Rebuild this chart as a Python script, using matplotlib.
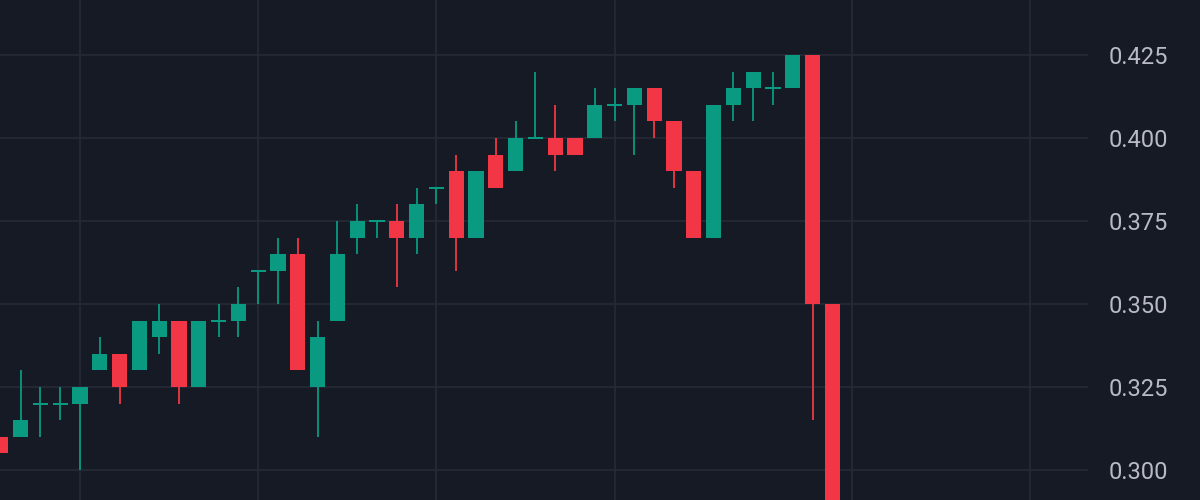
import matplotlib
matplotlib.use("Agg")
import matplotlib.pyplot as plt
import numpy as np

# OHLC data (one candle per session)
opens  = [0.310, 0.310, 0.320, 0.320, 0.320, 0.330, 0.335, 0.330, 0.340, 0.345,
          0.325, 0.345, 0.345, 0.360, 0.360, 0.365, 0.325, 0.345, 0.370, 0.375,
          0.375, 0.370, 0.385, 0.390, 0.370, 0.395, 0.390, 0.400, 0.400, 0.400,
          0.400, 0.410, 0.410, 0.415, 0.405, 0.390, 0.370, 0.410, 0.415, 0.415,
          0.415, 0.425, 0.350]
highs  = [0.310, 0.330, 0.325, 0.325, 0.325, 0.340, 0.335, 0.345, 0.350, 0.345,
          0.345, 0.350, 0.355, 0.360, 0.370, 0.370, 0.345, 0.375, 0.380, 0.375,
          0.380, 0.385, 0.385, 0.395, 0.390, 0.400, 0.405, 0.420, 0.410, 0.400,
          0.415, 0.415, 0.415, 0.415, 0.405, 0.390, 0.410, 0.420, 0.420, 0.420,
          0.425, 0.425, 0.350]
lows   = [0.305, 0.310, 0.310, 0.315, 0.300, 0.330, 0.320, 0.330, 0.335, 0.320,
          0.325, 0.340, 0.340, 0.350, 0.350, 0.330, 0.310, 0.345, 0.365, 0.370,
          0.355, 0.365, 0.380, 0.360, 0.370, 0.385, 0.390, 0.400, 0.390, 0.395,
          0.400, 0.405, 0.395, 0.400, 0.385, 0.370, 0.370, 0.405, 0.405, 0.410,
          0.415, 0.315, 0.270]
closes = [0.305, 0.315, 0.320, 0.320, 0.325, 0.335, 0.325, 0.345, 0.345, 0.325,
          0.345, 0.345, 0.350, 0.360, 0.365, 0.330, 0.340, 0.365, 0.375, 0.375,
          0.370, 0.380, 0.385, 0.370, 0.390, 0.385, 0.400, 0.400, 0.395, 0.395,
          0.410, 0.410, 0.415, 0.405, 0.390, 0.370, 0.410, 0.415, 0.420, 0.415,
          0.425, 0.350, 0.270]
price_ticks = [0.300, 0.325, 0.350, 0.375, 0.400, 0.425]
price_labels = ["0.300", "0.325", "0.350", "0.375", "0.400", "0.425"]
time_grid = [4, 13, 22, 31, 43, 52]

BG = "#161a25"
GRID = "#262a36"
UP = "#0a9981"
DOWN = "#f23645"
TEXT = "#b8bbc4"

fig = plt.figure(figsize=(12, 5), dpi=100, facecolor=BG)
ax = fig.add_axes([0, 0, 1088 / 1200, 1])
ax.set_facecolor(BG)

o = np.array(opens); h = np.array(highs); l = np.array(lows); c = np.array(closes)
x = np.arange(len(o))
colors = [UP if cc >= oo else DOWN for oo, cc in zip(o, c)]

ax.set_xlim(-0.04, 54.91)
ax.set_ylim(0.29096, 0.44157)

min_h = 0.0006
body_bottom = np.minimum(o, c)
body_h = np.abs(c - o)
doji = body_h < 1e-9
body_bottom = np.where(doji, o - min_h / 2, body_bottom)
body_h = np.where(doji, min_h, body_h)

ax.vlines(x, l, h, colors=colors, linewidth=1.3, zorder=3)
ax.bar(x, body_h, bottom=body_bottom, width=0.76, color=colors,
       edgecolor="none", zorder=4)

# grid
ax.set_yticks(price_ticks)
ax.set_yticklabels(price_labels)
ax.set_xticks(time_grid)
ax.grid(True, color=GRID, linewidth=1.2, zorder=0)
ax.tick_params(axis="x", length=0, labelbottom=False)
ax.yaxis.tick_right()
ax.tick_params(axis="y", length=0, pad=15, labelcolor=TEXT, labelsize=17)
for lab in ax.get_yticklabels():
    lab.set_fontfamily(["Roboto", "DejaVu Sans"])
for s in ax.spines.values():
    s.set_visible(False)

fig.savefig("out.png", dpi=100, facecolor=BG)
